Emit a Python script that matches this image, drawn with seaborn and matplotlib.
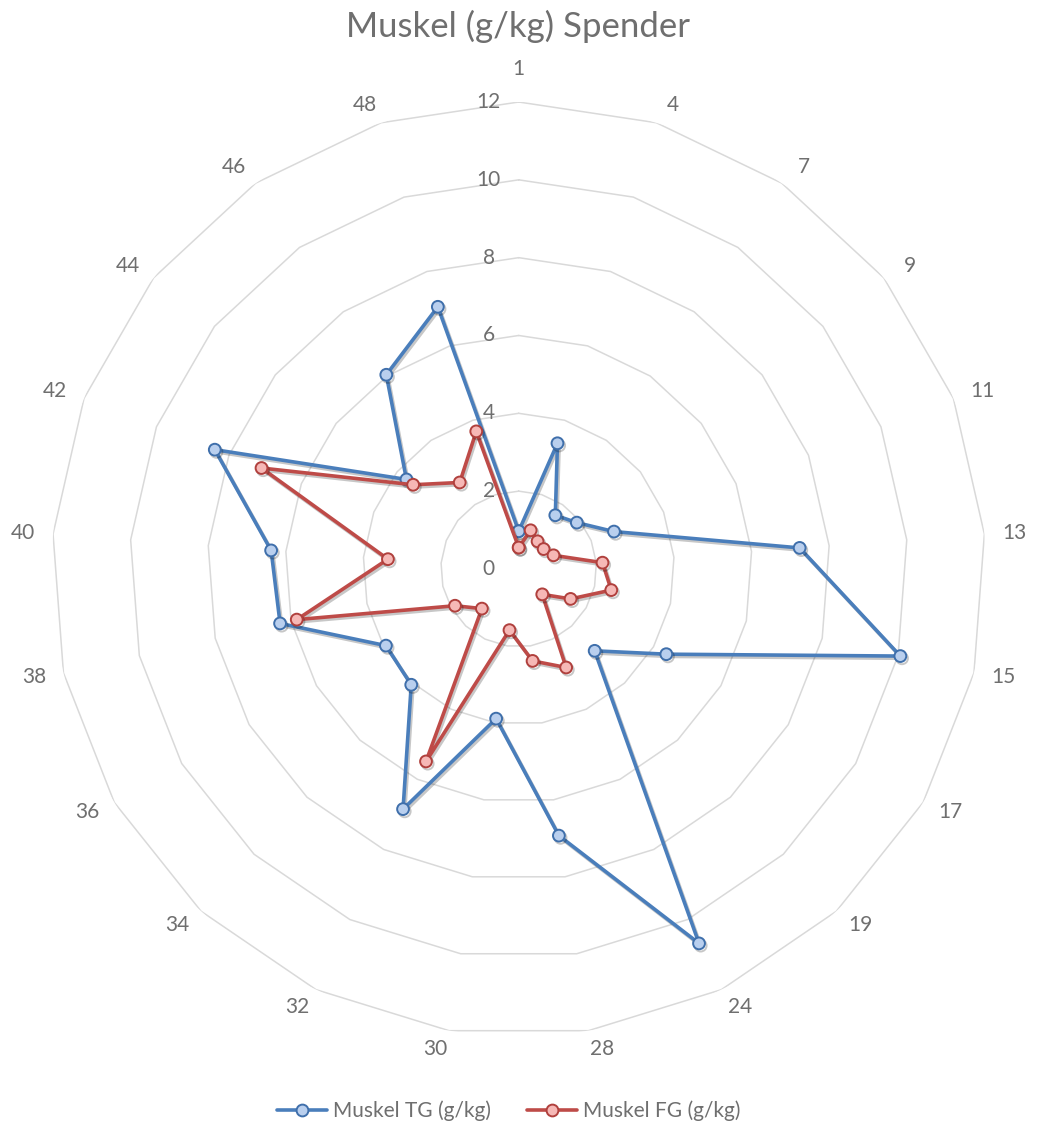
import numpy as np
import pandas as pd
import matplotlib
matplotlib.use("Agg")
import matplotlib.pyplot as plt
import matplotlib.patheffects as pe
import matplotlib.transforms as mtransforms
from matplotlib.lines import Line2D
import seaborn as sns

# --- data -------------------------------------------------------------
categories = ["1", "4", "7", "9", "11", "13", "15", "17", "19", "24", "28",
              "30", "32", "34", "36", "38", "40", "42", "44", "46", "48"]
muskel_tg = [0.97, 3.38, 1.67, 1.91, 2.63, 7.24, 10.06, 4.38, 2.87, 10.68, 6.93,
             3.89, 6.85, 4.06, 3.94, 6.29, 6.38, 8.39, 3.69, 6.04, 7.05]
muskel_fg = [0.55, 1.04, 0.86, 0.82, 0.96, 2.16, 2.44, 1.54, 0.89, 2.81, 2.39,
             1.59, 5.49, 1.39, 1.89, 5.85, 3.37, 7.10, 3.47, 2.69, 3.70]
radial_ticks = [0, 2, 4, 6, 8, 10, 12]
series_names = ["Muskel TG (g/kg)", "Muskel FG (g/kg)"]
title = "Muskel (g/kg) Spender"

# --- style ------------------------------------------------------------
sns.set_theme(style="white")
plt.rcParams["font.family"] = ["Lato", "DejaVu Sans"]
text_grey = "#6f6f6f"
grid_grey = "#d9d9d9"
styles = {
    series_names[0]: dict(line="#4a7ebb", edge="#3f6fab", face="#b9cfee"),
    series_names[1]: dict(line="#be4b48", edge="#b0403d", face="#f6b8b6"),
}

fig = plt.figure(figsize=(10.37, 11.28), dpi=100)
ax = fig.add_axes([0.0499, 0.0816, 0.9006, 0.828], projection="polar")
ax.set_theta_zero_location("N")
ax.set_theta_direction(-1)

n = len(categories)
theta = np.linspace(0, 2 * np.pi, n, endpoint=False)
theta_closed = np.append(theta, 2 * np.pi)
r_max = radial_ticks[-1]
px_per_unit = 467 / r_max

# polygonal grid rings
for v in radial_ticks[1:]:
    ax.plot(theta_closed, [v] * (n + 1), color=grid_grey, lw=1.1, zorder=1)

# series
shadow = [pe.SimpleLineShadow(offset=(1.2, -1.6), shadow_color="black", alpha=0.22, rho=1.0),
          pe.Normal()]
for name, vals in zip(series_names, [muskel_tg, muskel_fg]):
    df = pd.DataFrame({"theta": theta_closed, "value": vals + vals[:1]})
    st = styles[name]
    sns.lineplot(data=df, x="theta", y="value", ax=ax, sort=False,
                 color=st["line"], lw=2.6, marker="o", markersize=8.5,
                 markerfacecolor=st["face"], markeredgecolor=st["edge"],
                 markeredgewidth=1.4, zorder=3, path_effects=shadow)

ax.set_ylim(0, r_max)
ax.grid(False)
ax.spines["polar"].set_visible(False)
ax.set_xlabel("")
ax.set_ylabel("")

# category labels: a fixed ring beyond the grid, pushed sideways by half a
# label width so they clear the outer polygon
ax.set_xticks(theta)
ax.set_xticklabels([])
for t, lab in zip(theta, categories):
    dx = 486 * np.sin(t) + 11 * np.sign(np.round(np.sin(t), 6))
    dy = 486 * np.cos(t) + (14 if np.isclose(t, 0) else 0)
    ax.text(np.arctan2(dx, dy), np.hypot(dx, dy) / px_per_unit, lab,
            ha="center", va="center", color=text_grey, fontsize=15, clip_on=False)

# radial value labels, just left of the vertical axis
ax.set_yticks(radial_ticks)
ax.set_yticklabels([])
shift = mtransforms.offset_copy(ax.transData, fig=fig, x=-30, y=0, units="dots")
for v in radial_ticks:
    ax.text(0, v, str(v), transform=shift, ha="center", va="center",
            color=text_grey, fontsize=15)

fig.text(0.5, 1 - 26 / 1128, title, ha="center", va="center",
         color=text_grey, fontsize=25)

handles = [Line2D([0], [0], color=styles[s]["line"], lw=2.6, marker="o",
                  markersize=8.5, markerfacecolor=styles[s]["face"],
                  markeredgecolor=styles[s]["edge"], markeredgewidth=1.4)
           for s in series_names]
fig.legend(handles, series_names, loc="center",
           bbox_to_anchor=(508.5 / 1037, 1 - 1111 / 1128),
           ncol=2, frameon=False, fontsize=15, labelcolor=text_grey,
           handlelength=2.4, handletextpad=0.29, columnspacing=1.73, numpoints=1)

fig.savefig("out.png", dpi=100)
